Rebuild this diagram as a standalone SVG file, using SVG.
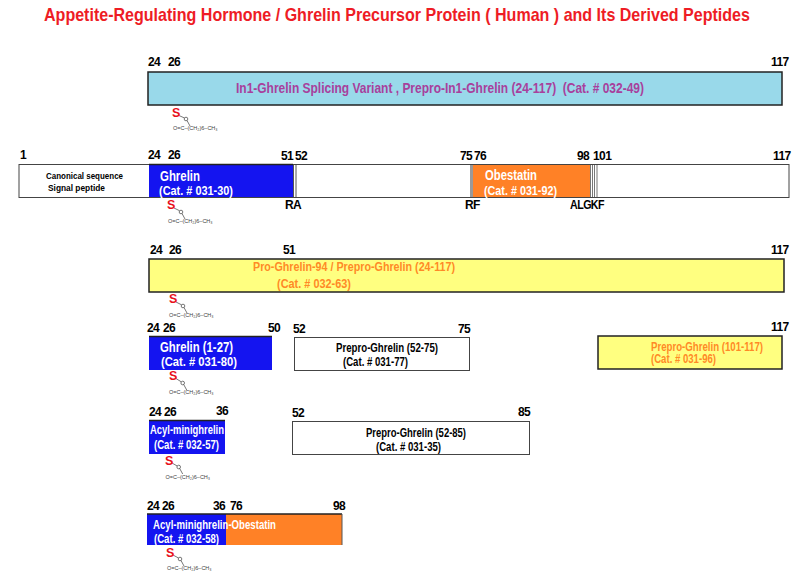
<svg xmlns="http://www.w3.org/2000/svg" width="800" height="578" viewBox="0 0 800 578">
<style>
text{font-family:"Liberation Sans",Arial,sans-serif;font-weight:bold}
.n{font-size:12px;fill:#000;letter-spacing:-.6px}
.t{font-size:13px}
.w{fill:#fff}.k{fill:#000}.o{fill:#ff8a26}.p{fill:#a8409c}
.s{font-size:12.500px;fill:#e8101c}
.c{font-size:5.500px;fill:#444;font-weight:normal}
.b{stroke:#444;stroke-width:1}
.d{stroke:#222;stroke-width:1.500}
.l{stroke:#555;stroke-width:.8;fill:none}
</style>
<rect width="800" height="578" fill="#fff"/>
<text transform="translate(44 20.500) scale(.9 1)" x="0" y="0" font-size="18" fill="#ee1c25" textLength="784.400" lengthAdjust="spacingAndGlyphs">Appetite-Regulating Hormone / Ghrelin Precursor Protein ( Human ) and Its Derived Peptides</text>

<g id="connectors">
<path class="l" d="M179 115.500L184.500 118M187 120.500L190 126"/><circle class="l" cx="186" cy="119" r="1.800"/>
<path class="l" d="M174 208L179.500 210.700M182 213.500L185 219"/><circle class="l" cx="181" cy="212" r="1.800"/>
<path class="l" d="M176 302L181.500 304.800M184 307.500L187 313"/><circle class="l" cx="183" cy="306" r="1.800"/>
<path class="l" d="M176 378.500L181.200 381.800M183.700 384.500L186.700 390"/><circle class="l" cx="182.700" cy="383" r="1.800"/>
<path class="l" d="M172 463L177.200 466M179.700 468.500L182.700 474"/><circle class="l" cx="178.700" cy="467" r="1.800"/>
<path class="l" d="M173 555L178.500 558M181 560.500L184 566"/><circle class="l" cx="180" cy="559" r="1.800"/>
</g>

<g id="in1-ghrelin">
<rect class="d" x="148" y="72" width="634" height="33" fill="#99d9ea"/>
<text class="n" x="148" y="66">24</text><text class="n" x="168" y="66">26</text><text class="n" x="771" y="66">117</text>
<text class="p" x="236" y="93" xml:space="preserve" textLength="408" lengthAdjust="spacingAndGlyphs" font-size="14.500">In1-Ghrelin Splicing Variant , Prepro-In1-Ghrelin (24-117)  (Cat. # 032-49)</text>
<text class="s" x="172" y="116.500">S</text>
<text class="c" x="173" y="130">O=C–(CH₂)6–CH₃</text>
</g>

<g id="canonical">
<rect class="b" x="19" y="164.500" width="770" height="33" fill="#fff"/>
<rect x="149" y="165" width="144" height="32" fill="#1414f0"/>
<path d="M149 164.500H293" stroke="#222" stroke-width="1.500"/>
<path d="M293.500 165V197M296 165V197" stroke="#555" stroke-width="1"/>
<rect x="473" y="165" width="117" height="32" fill="#ff8126"/>
<path d="M471.500 165V197" stroke="#999" stroke-width="3"/>
<path d="M590.500 165V197M592.500 165V197M594.500 165V197M597 165V197" stroke="#777" stroke-width="1"/>
<text class="n" x="20" y="159">1</text><text class="n" x="148" y="159">24</text><text class="n" x="168" y="159">26</text>
<text class="n" x="281" y="160">51</text><text class="n" x="295" y="160">52</text>
<text class="n" x="460" y="160">75</text><text class="n" x="474" y="160">76</text>
<text class="n" x="577" y="160">98</text><text class="n" x="593" y="160">101</text><text class="n" x="773" y="160">117</text>
<text x="46" y="179" font-size="8.500" class="k" textLength="77" lengthAdjust="spacingAndGlyphs">Canonical sequence</text>
<text x="48" y="191" font-size="8.500" class="k" textLength="57" lengthAdjust="spacingAndGlyphs">Signal peptide</text>
<text x="160" y="181" font-size="14" class="w" textLength="40" lengthAdjust="spacingAndGlyphs">Ghrelin</text>
<text x="159" y="195" font-size="13" class="w" textLength="74" lengthAdjust="spacingAndGlyphs">(Cat. # 031-30)</text>
<text x="485" y="180" font-size="14" class="w" textLength="52" lengthAdjust="spacingAndGlyphs">Obestatin</text>
<text x="484" y="195" font-size="13" class="w" textLength="73" lengthAdjust="spacingAndGlyphs">(Cat. # 031-92)</text>
<text class="n" x="285" y="209">RA</text><text class="n" x="465" y="209">RF</text><text class="n" x="570" y="209" textLength="34" lengthAdjust="spacingAndGlyphs">ALGKF</text>
<text class="s" x="167" y="209">S</text>
<text class="c" x="168" y="222.500">O=C–(CH₂)6–CH₃</text>
</g>

<g id="pro-ghrelin-94">
<rect class="d" x="149" y="259" width="635" height="33" fill="#ffff80"/>
<text class="n" x="150" y="254">24</text><text class="n" x="169" y="254">26</text><text class="n" x="283" y="254">51</text><text class="n" x="771" y="254">117</text>
<text class="o" x="253" y="271" font-size="12.500" textLength="202" lengthAdjust="spacingAndGlyphs">Pro-Ghrelin-94 / Prepro-Ghrelin (24-117)</text>
<text class="o" x="277" y="287.500" font-size="12.500" textLength="74" lengthAdjust="spacingAndGlyphs">(Cat. # 032-63)</text>
<text class="s" x="169" y="303">S</text>
<text class="c" x="169" y="317">O=C–(CH₂)6–CH₃</text>
</g>

<g id="ghrelin-1-27">
<rect x="149" y="337" width="123" height="33" fill="#1414f0"/>
<path d="M149 336.500H272" stroke="#222" stroke-width="1.500"/>
<text class="n" x="147" y="332">24</text><text class="n" x="163" y="332">26</text><text class="n" x="268" y="332">50</text>
<text x="160" y="352" font-size="14" class="w" textLength="73" lengthAdjust="spacingAndGlyphs">Ghrelin (1-27)</text>
<text x="161" y="365.500" font-size="13.500" class="w" textLength="76" lengthAdjust="spacingAndGlyphs">(Cat. # 031-80)</text>
<text class="s" x="169" y="380">S</text>
<text class="c" x="169" y="394">O=C–(CH₂)6–CH₃</text>
</g>

<g id="prepro-52-75">
<rect class="b" x="294.500" y="337.500" width="175" height="33" fill="#fff"/>
<text class="n" x="293" y="333">52</text><text class="n" x="458" y="333">75</text>
<text x="336" y="352" font-size="12.500" class="k" textLength="102" lengthAdjust="spacingAndGlyphs">Prepro-Ghrelin (52-75)</text>
<text x="343" y="366" font-size="12" class="k" textLength="65" lengthAdjust="spacingAndGlyphs">(Cat. # 031-77)</text>
</g>

<g id="prepro-101-117">
<rect class="d" x="598" y="336" width="184" height="33" fill="#ffff80"/>
<text class="n" x="771" y="331">117</text>
<text class="o" x="651" y="350.500" font-size="12" textLength="112" lengthAdjust="spacingAndGlyphs">Prepro-Ghrelin (101-117)</text>
<text class="o" x="651" y="363" font-size="12" textLength="65" lengthAdjust="spacingAndGlyphs">(Cat. # 031-96)</text>
</g>

<g id="acyl-minighrelin">
<rect x="149" y="421" width="76" height="33" fill="#1414f0"/>
<path d="M149 420.500H225" stroke="#222" stroke-width="1.500"/>
<text class="n" x="149" y="416">24</text><text class="n" x="164" y="416">26</text><text class="n" x="216" y="415">36</text>
<text x="150" y="434" font-size="13" class="w" textLength="74" lengthAdjust="spacingAndGlyphs">Acyl-minighrelin</text>
<text x="154" y="449" font-size="13" class="w" textLength="65" lengthAdjust="spacingAndGlyphs">(Cat. # 032-57)</text>
<text class="s" x="165" y="464.500">S</text>
<text class="c" x="165.500" y="478.500">O=C–(CH₂)6–CH₃</text>
</g>

<g id="prepro-52-85">
<rect class="b" x="292.500" y="421.500" width="237" height="33" fill="#fff"/>
<text class="n" x="292" y="417">52</text><text class="n" x="518" y="416">85</text>
<text x="366" y="437" font-size="12.500" class="k" textLength="100" lengthAdjust="spacingAndGlyphs">Prepro-Ghrelin (52-85)</text>
<text x="376" y="451" font-size="12" class="k" textLength="65" lengthAdjust="spacingAndGlyphs">(Cat. # 031-35)</text>
</g>

<g id="acyl-minighrelin-obestatin">
<rect x="147" y="514" width="79" height="31" fill="#1414f0"/>
<rect x="226" y="514" width="116" height="31" fill="#ff8126"/>
<path d="M147 514H342" stroke="#222" stroke-width="1.500"/><path d="M342 514V545" stroke="#555"/>
<text class="n" x="147" y="510">24</text><text class="n" x="162" y="510">26</text><text class="n" x="213" y="510">36</text><text class="n" x="230" y="510">76</text><text class="n" x="333" y="510">98</text>
<text x="153" y="529" font-size="13" class="w" textLength="123" lengthAdjust="spacingAndGlyphs">Acyl-minighrelin-Obestatin</text>
<text x="154" y="543" font-size="13" class="w" textLength="65" lengthAdjust="spacingAndGlyphs">(Cat. # 032-58)</text>
<text class="s" x="166" y="556.500">S</text>
<text class="c" x="167" y="570">O=C–(CH₂)6–CH₃</text>
</g>
</svg>
